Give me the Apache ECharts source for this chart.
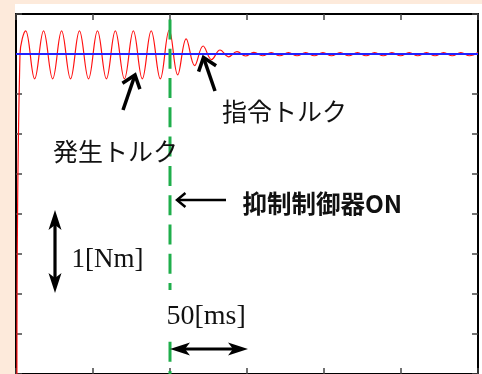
<!DOCTYPE html>
<html>
<head>
<meta charset="utf-8">
<script src="https://cdn.jsdelivr.net/npm/echarts@6/dist/echarts.min.js"></script>
<style>
html,body{margin:0;padding:0;background:#fdeadb;width:482px;height:374px;overflow:hidden}
#paper{position:absolute;left:15px;top:4px;right:0;bottom:0;background:#ffffff}
#chart{position:absolute;left:0;top:0;width:482px;height:374px}
</style>
</head>
<body>
<div id="paper"></div>
<div id="chart"></div>
<script>
// ---- data (time in ms, torque in Nm) ----
const xMin = 0, xMax = 300, xStep = 50;
const yMin = 0, yMax = 4.5, yStep = 0.5;

// generated torque (発生トルク): extrema
const tRed = [0.6, 2.6, 6.3, 12.1, 17.9, 23.8, 29.6, 35.4, 41.2, 47.1, 52.9, 58.7, 64.5, 70.4,
  76.2, 82.0, 87.8, 93.7, 99.5, 105.0, 110.5, 116.0, 121.5, 127.0, 132.5, 138.0, 143.5, 149.0,
  154.5, 160.1, 165.7, 171.3, 176.9, 182.5, 188.1, 193.7, 199.3, 204.9, 210.5, 216.1, 221.7,
  227.3, 232.9, 238.5, 244.1, 249.7, 255.3, 260.9, 266.5, 272.1, 277.7, 283.3, 288.9, 294.5, 300.0];
const vRed = [0.0, 4.0, 4.29, 3.69, 4.29, 3.69, 4.29, 3.69, 4.29, 3.69, 4.29, 3.69, 4.29, 3.69,
  4.29, 3.69, 4.29, 3.69, 4.30, 3.74, 4.19, 3.855, 4.10, 3.93, 4.05, 3.965, 4.03, 3.975,
  4.02, 3.978, 4.018, 3.978, 4.018, 3.978, 4.018, 3.978, 4.018, 3.978, 4.018, 3.978, 4.018,
  3.978, 4.018, 3.978, 4.018, 3.978, 4.018, 3.978, 4.018, 3.978, 4.018, 3.978, 4.018, 3.978, 4.018];

// command torque (指令トルク)
const tCmd = [0, 300];
const vCmd = [4.0, 4.0];

// suppression controller switched on
const tControllerOn = 100;

// annotation texts
const labelCmd = '指令トルク';
const labelGen = '発生トルク';
const labelOn = '抑制制御器ON';
const labelNm = '1[Nm]';
const labelMs = '50[ms]';

// ---- chart ----
const chart = echarts.init(document.getElementById('chart'), null, {renderer: 'canvas'});

const axisCommon = {
  type: 'value',
  axisLine: {show: true, onZero: false, lineStyle: {color: '#000', width: 2}},
  axisTick: {show: true, inside: true, length: 6, lineStyle: {color: '#444', width: 1.5}},
  axisLabel: {show: false},
  splitLine: {show: false}
};

function arrowChevron(tail, tip, headLen, angDeg, w) {
  const dx = tail[0] - tip[0], dy = tail[1] - tip[1];
  const L = Math.hypot(dx, dy), bx = dx / L, by = dy / L;
  const a = angDeg * Math.PI / 180, c = Math.cos(a), s = Math.sin(a);
  const p1 = [tip[0] + headLen * (bx * c - by * s), tip[1] + headLen * (bx * s + by * c)];
  const p2 = [tip[0] + headLen * (bx * c + by * s), tip[1] + headLen * (-bx * s + by * c)];
  const st = {stroke: '#000', lineWidth: w, fill: null, lineCap: 'butt', lineJoin: 'miter'};
  return [
    {type: 'polyline', z: 100, silent: true, shape: {points: [tail, tip]}, style: st},
    {type: 'polyline', z: 100, silent: true, shape: {points: [p1, tip, p2]}, style: st}
  ];
}

function arrowDouble(a, b, headLen, halfW, w) {
  const dx = b[0] - a[0], dy = b[1] - a[1];
  const L = Math.hypot(dx, dy), ux = dx / L, uy = dy / L, nx = -uy, ny = ux;
  function head(tip, dir) {
    const bx = tip[0] - dir * ux * headLen, by = tip[1] - dir * uy * headLen;
    const nbx = tip[0] - dir * ux * headLen * 0.75, nby = tip[1] - dir * uy * headLen * 0.75;
    return {type: 'polygon', z: 100, silent: true,
      shape: {points: [tip, [bx + nx * halfW, by + ny * halfW], [nbx, nby], [bx - nx * halfW, by - ny * halfW]]},
      style: {fill: '#000', stroke: null}};
  }
  return [
    {type: 'line', z: 100, silent: true,
      shape: {x1: a[0] + ux * headLen * 0.7, y1: a[1] + uy * headLen * 0.7, x2: b[0] - ux * headLen * 0.7, y2: b[1] - uy * headLen * 0.7},
      style: {stroke: '#000', lineWidth: w}},
    head(a, -1), head(b, 1)
  ];
}

function txt(str, x, y, font) {
  return {type: 'text', z: 101, silent: true, x: x, y: y,
    style: {text: str, x: 0, y: 0, font: font, fill: '#111',
      align: 'left', verticalAlign: 'middle', textAlign: 'left', textVerticalAlign: 'middle'}};
}

const sansJP = '"Noto Sans CJK JP", "Noto Sans", sans-serif';
const serif = '"Liberation Serif", "DejaVu Serif", serif';

const graphics = [].concat(
  arrowChevron([123, 110], [135, 75], 15, 38, 3.5),
  arrowChevron([215, 91], [203.5, 57.5], 15, 38, 3.5),
  arrowChevron([226, 200], [177, 200], 11, 40, 2.5),
  arrowDouble([55, 210], [55, 293], 20, 6.5, 3.2),
  [{type: 'rect', z: 99, silent: true, shape: {x: 163, y: 290, width: 88, height: 51}, style: {fill: '#fff'}}],
  arrowDouble([170, 349], [248, 349], 20, 6.5, 3.2),
  [
    txt(labelCmd, 222, 111, 'normal 25px ' + sansJP),
    txt(labelGen, 53, 151.5, 'normal 25px ' + sansJP),
    txt(labelOn, 242.5, 204, 'bold 24.5px ' + sansJP),
    txt(labelNm, 71.5, 260, 'normal 27px ' + serif),
    txt(labelMs, 166.5, 317, 'normal 28px ' + serif)
  ]
);

chart.setOption({
  animation: false,
  backgroundColor: 'transparent',
  grid: {left: 16, right: 4, top: 14, bottom: -3, containLabel: false},
  xAxis: [
    Object.assign({}, axisCommon, {min: xMin, max: xMax, interval: xStep, position: 'bottom'}),
    Object.assign({}, axisCommon, {min: xMin, max: xMax, interval: xStep, position: 'top'})
  ],
  yAxis: [
    Object.assign({}, axisCommon, {min: yMin, max: yMax, interval: yStep, position: 'left'}),
    Object.assign({}, axisCommon, {min: yMin, max: yMax, interval: yStep, position: 'right'})
  ],
  series: [
    {name: labelGen, type: 'line', z: 2, data: tRed.map((t, i) => [t, vRed[i]]),
      smooth: 0.4, showSymbol: false, lineStyle: {color: '#ff1010', width: 1.2}},
    {name: labelCmd, type: 'line', z: 3, data: tCmd.map((t, i) => [t, vCmd[i]]),
      showSymbol: false, lineStyle: {color: '#2222ff', width: 2}},
    {name: labelOn, type: 'line', z: 4, data: [[tControllerOn, yMax], [tControllerOn, yMin]],
      showSymbol: false, lineStyle: {color: '#1fae4b', width: 3, type: [20, 9.3], dashOffset: 23.9}}
  ],
  graphic: {elements: graphics}
});
</script>
</body>
</html>
